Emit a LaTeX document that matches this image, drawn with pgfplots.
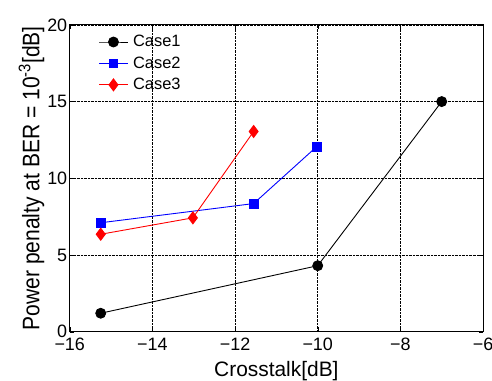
\documentclass[border=0pt]{standalone}
\usepackage{pgfplots}
\pgfplotsset{compat=1.18}
\usepackage{fontspec}
\setmainfont{Liberation Sans}
\begin{document}
\begin{tikzpicture}
\useasboundingbox (-70pt,-49pt) rectangle (424pt,333pt);
\begin{axis}[
  scale only axis,
  width=415pt, height=308pt,
  xmin=-16, xmax=-6, ymin=0, ymax=20,
  xtick={-16,-14,...,-6}, ytick={0,5,...,20},
  xticklabels={−16,−14,−12,−10,−8,−6},
  yticklabels={0,5,10,15,20},
  grid=major,
  grid style={black, densely dotted, line width=0.5pt},
  axis line style={black, line width=1pt},
  tick style={black},
  tick align=inside,
  ticklabel style={font=\fontsize{18}{20}\selectfont},
  xticklabel style={yshift=-3pt},
  yticklabel style={xshift=1pt},
  xlabel={Crosstalk[dB]},
  ylabel={Power penalty at BER = 10\textsuperscript{-3}[dB]},
  xlabel style={font=\fontsize{21}{23}\selectfont, yshift=-4pt},
  ylabel style={font=\fontsize{24}{26}\selectfont, yshift=-4pt, xscale=0.88},
  legend style={draw=none, fill=none, at={(axis cs:-15.3,19.45)}, anchor=north west, font=\fontsize{16.5}{18}\selectfont, row sep=4.5pt, inner sep=0pt,
    /tikz/every odd column/.append style={column sep=3pt}},
  legend cell align=left,
  legend image code/.code={\draw[mark repeat=2,mark phase=2] plot coordinates {(0cm,0cm)(0.5cm,0cm)(1cm,0cm)};},
  clip=false,
]
\addplot[black, line width=0.9pt, mark=*, mark size=5pt] coordinates {(-15.25,1.2) (-10,4.3) (-7,15)};
\addlegendentry{Case1}
\addplot[blue, line width=0.9pt, mark=square*, mark size=4.5pt] coordinates {(-15.25,7.1) (-11.55,8.35) (-10.03,12.05)};
\addlegendentry{Case2}
\addplot[red, line width=0.9pt, mark=diamond*, mark size=6pt] coordinates {(-15.25,6.35) (-13.02,7.42) (-11.55,13.05)};
\addlegendentry{Case3}
\end{axis}
\end{tikzpicture}
\end{document}
